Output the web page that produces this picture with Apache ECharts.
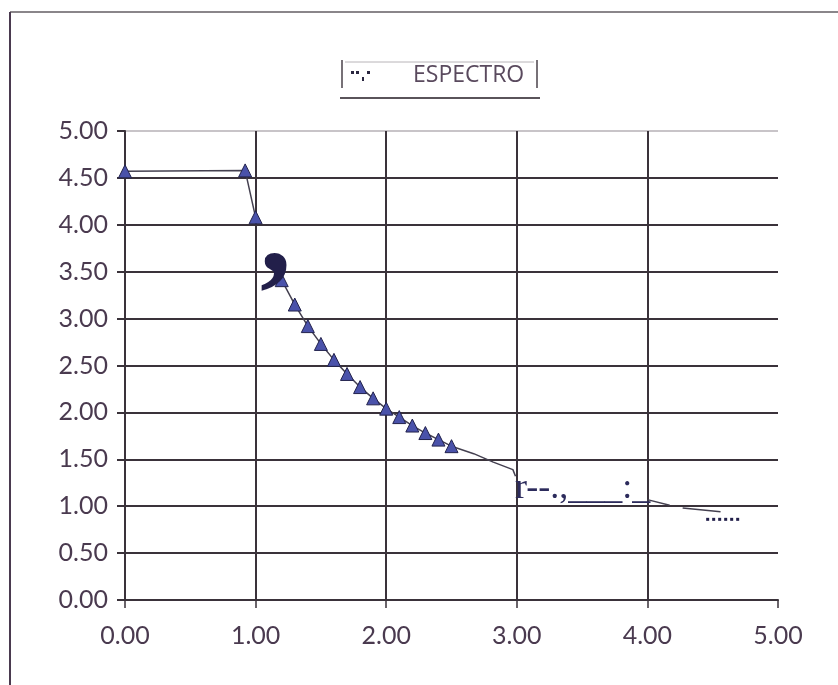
<!DOCTYPE html>
<html>
<head>
<meta charset="utf-8">
<title>ESPECTRO</title>
<script src="https://cdn.jsdelivr.net/npm/echarts@6/dist/echarts.min.js"></script>
<style>
  html, body { margin: 0; padding: 0; background: #fff; }
  #spectrum-chart { width: 838px; height: 685px; }
</style>
</head>
<body>
<div id="spectrum-chart"></div>
<script>
// ==================== 数据 ====================
// 平台段 + 下降点
const plateauT = [0, 0.92, 1.0];
const plateauSa = [4.57, 4.58, 4.08];

// 带三角标记的衰减段
const decayT = [1.2, 1.3, 1.4, 1.5, 1.6, 1.7, 1.8, 1.9, 2.0, 2.1, 2.2, 2.3, 2.4, 2.5];
const decaySa = [3.41, 3.15, 2.92, 2.73, 2.56, 2.41, 2.27, 2.15, 2.04, 1.95, 1.86, 1.78, 1.71, 1.64];

// 无标记尾段
const tailT = [2.5, 2.67, 2.82, 2.97, 2.99];
const tailSa = [1.64, 1.56, 1.47, 1.39, 1.32];

// 4.0 附近的残留线段
const farT1 = [4.0, 4.17];
const farSa1 = [1.07, 1.01];
const farT2 = [4.27, 4.56];
const farSa2 = [0.98, 0.94];
const dotT = [4.45, 4.72];
const dotSa = [0.86, 0.86];

// 坐标轴
const xTicks = [0, 1, 2, 3, 4, 5];
const yTicks = [0, 0.5, 1, 1.5, 2, 2.5, 3, 3.5, 4, 4.5, 5];

const legendName = 'ESPECTRO';

// ==================== 样式 ====================
const THEME = {
  text: '#4a3a4f',
  grid: '#3a323a',
  gridLight: '#c8c4c8',
  line: '#444050',
  markerFill: '#4a52aa',
  markerBorder: '#22224c',
  ink: '#221f4a',
  font: 'Lato, "Open Sans", sans-serif'
};

const pairs = (xs, ys) => xs.map((x, i) => [x, ys[i]]);

const Spectrum = {
  build() {
    const chart = echarts.init(document.getElementById('spectrum-chart'));

    // 右边界不画竖线，顶部 5.00 线用浅灰
    const xColors = xTicks.map((t, i) => i === xTicks.length - 1 ? 'rgba(0,0,0,0)' : THEME.grid);
    const yColors = yTicks.map((t, i) => i === yTicks.length - 1 ? THEME.gridLight : THEME.grid);

    const markerSeries = (data) => ({
      type: 'line',
      data,
      symbol: 'triangle',
      symbolSize: 13,
      showAllSymbol: true,
      lineStyle: { color: THEME.line, width: 1.5 },
      itemStyle: { color: THEME.markerFill, borderColor: THEME.markerBorder, borderWidth: 1 },
      z: 5,
      animation: false
    });

    const plainSeries = (data, extra = {}) => ({
      type: 'line',
      data,
      symbol: 'none',
      lineStyle: { color: THEME.line, width: 1.5, ...extra },
      z: 4,
      animation: false
    });

    chart.setOption({
      backgroundColor: '#fff',
      animation: false,
      grid: { left: 125, right: 60, top: 131, bottom: 85 },
      xAxis: {
        type: 'value',
        min: 0,
        max: 5,
        interval: 1,
        axisLine: { show: true, onZero: false, lineStyle: { color: THEME.grid, width: 2 } },
        axisTick: { show: true, length: 8, lineStyle: { color: THEME.grid, width: 1.5 } },
        axisLabel: {
          margin: 23,
          fontSize: 25,
          fontFamily: THEME.font,
          color: THEME.text,
          formatter: v => v.toFixed(2)
        },
        splitLine: { show: true, lineStyle: { color: xColors, width: 2 } }
      },
      yAxis: {
        type: 'value',
        min: 0,
        max: 5,
        interval: 0.5,
        axisLine: { show: true, onZero: false, lineStyle: { color: THEME.grid, width: 2 } },
        axisTick: { show: true, length: 8, lineStyle: { color: THEME.grid, width: 2 } },
        axisLabel: {
          margin: 17,
          fontSize: 25,
          fontFamily: THEME.font,
          color: THEME.text,
          formatter: v => v.toFixed(2)
        },
        splitLine: { show: true, lineStyle: { color: yColors, width: 2 } }
      },
      series: [
        markerSeries(pairs(plateauT, plateauSa)),
        plainSeries(pairs(tailT, tailSa)),
        markerSeries(pairs(decayT, decaySa)),
        plainSeries(pairs(farT1, farSa1)),
        plainSeries(pairs(farT2, farSa2)),
        plainSeries(pairs(dotT, dotSa), { type: 'dotted', width: 3, color: THEME.ink })
      ],
      graphic: [
        // 外框
        { type: 'line', shape: { x1: 10, y1: 12, x2: 838, y2: 12 }, style: { stroke: '#8a868a', lineWidth: 2 } },
        { type: 'line', shape: { x1: 10, y1: 12, x2: 10, y2: 685 }, style: { stroke: '#4a3a4f', lineWidth: 2 } },
        // 图例框
        { type: 'line', shape: { x1: 342, y1: 60, x2: 342, y2: 88 }, style: { stroke: '#4a424a', lineWidth: 1.5 } },
        { type: 'line', shape: { x1: 537, y1: 60, x2: 537, y2: 88 }, style: { stroke: '#4a424a', lineWidth: 1.5 } },
        { type: 'line', shape: { x1: 345, y1: 62, x2: 534, y2: 62 }, style: { stroke: '#b8b4b8', lineWidth: 1 } },
        { type: 'line', shape: { x1: 340, y1: 98, x2: 540, y2: 98 }, style: { stroke: '#5a545a', lineWidth: 2 } },
        { type: 'rect', shape: { x: 351, y: 71, width: 3, height: 3 }, style: { fill: '#2a2640' } },
        { type: 'rect', shape: { x: 356, y: 71, width: 3, height: 3 }, style: { fill: '#2a2640' } },
        { type: 'rect', shape: { x: 367, y: 71, width: 3, height: 3 }, style: { fill: '#2a2640' } },
        { type: 'rect', shape: { x: 362, y: 77, width: 2, height: 4 }, style: { fill: '#2a2640' } },
        {
          type: 'text', left: 413, top: 64,
          style: { text: legendName, font: '23px "Open Sans", sans-serif', fill: '#5a4a5e' }
        },
        // 扫描残留符号
        {
          type: 'text', left: 260, top: 176, z: 10,
          style: { text: ',', font: 'bold 125px "Liberation Serif", serif', fill: THEME.ink }
        },
        {
          type: 'text', left: 515, top: 471, z: 10,
          style: { text: 'r--.,___:_', font: '36px "Liberation Serif", serif', fill: '#2c2b5c' }
        }
      ]
    });
    return chart;
  }
};

Spectrum.build();
</script>
</body>
</html>
